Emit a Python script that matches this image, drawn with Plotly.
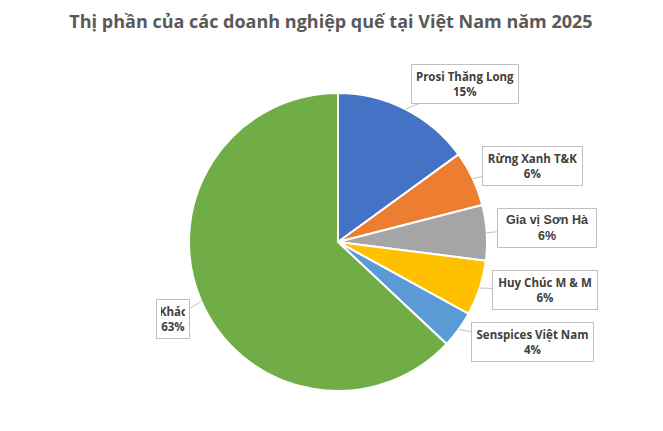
import math
import plotly.graph_objects as go

# Thị phần (%) của các doanh nghiệp quế
companies = ["Prosi Thăng Long", "Rừng Xanh T&K", "Gia vị Sơn Hà",
             "Huy Chúc M & M", "Senspices Việt Nam", "Khác"]
shares = [15, 6, 6, 6, 4, 63]
colors = ["#4472C4", "#ED7D31", "#A5A5A5", "#FFC000", "#5B9BD5", "#70AD47"]

# page has an 8px body margin, so the figure is a bit smaller than the window
OFF = 8
W, H = 663 - 2 * OFF, 431 - 2 * OFF
cx, cy, r = 338 - OFF, 242 - OFF, 149  # pie centre / radius in px

# callout boxes: centre (screen px) and inner width
box_pos = [(465, 84), (532, 166), (547, 228), (545, 290), (532, 342), (173, 319)]
box_w = [98, 91, 90, 96, 113, 24]
box_font = ["Open Sans", "Open Sans", "Liberation Sans", "Open Sans", "Open Sans", "Open Sans"]

fig = go.Figure(
    go.Pie(
        labels=companies,
        values=shares,
        sort=False,
        direction="clockwise",
        rotation=0,
        marker=dict(colors=colors, line=dict(color="white", width=2)),
        textinfo="none",
        hoverinfo="label+percent",
        domain=dict(x=[(cx - r) / W, (cx + r) / W], y=[1 - (cy + r) / H, 1 - (cy - r) / H]),
        showlegend=False,
    )
)

total = sum(shares)
cum = 0
annotations = []
for name, v, (bx, by), bw, ff in zip(companies, shares, box_pos, box_w, box_font):
    mid = (cum + v / 2) / total * 2 * math.pi
    cum += v
    tx = cx + r * math.sin(mid)
    ty = cy - r * math.cos(mid)
    annotations.append(dict(
        x=tx / W, y=1 - ty / H, xref="paper", yref="paper",
        ax=(bx - OFF) - tx, ay=(by - OFF) - ty,
        text=f"<b>{name}</b><br><b>{v}%</b>",
        width=bw,
        showarrow=True, arrowhead=0, arrowwidth=1, arrowcolor="#BFBFBF",
        font=dict(family=ff, size=11.5 if ff == "Open Sans" else 12.5, color="#404040"),
        bgcolor="white", bordercolor="#BFBFBF", borderwidth=1, borderpad=4,
        align="center",
    ))

fig.update_layout(
    width=W, height=H,
    margin=dict(l=0, r=0, t=0, b=0),
    paper_bgcolor="white",
    title=dict(
        text="<b>Thị phần của các doanh nghiệp quế tại Việt Nam năm 2025</b>",
        x=(331 - OFF) / W, xanchor="center", y=1 - (22 - OFF) / H, yanchor="middle",
        font=dict(family="Open Sans", size=18, color="#595959"),
    ),
    annotations=annotations,
)

fig.write_html("out.html")
